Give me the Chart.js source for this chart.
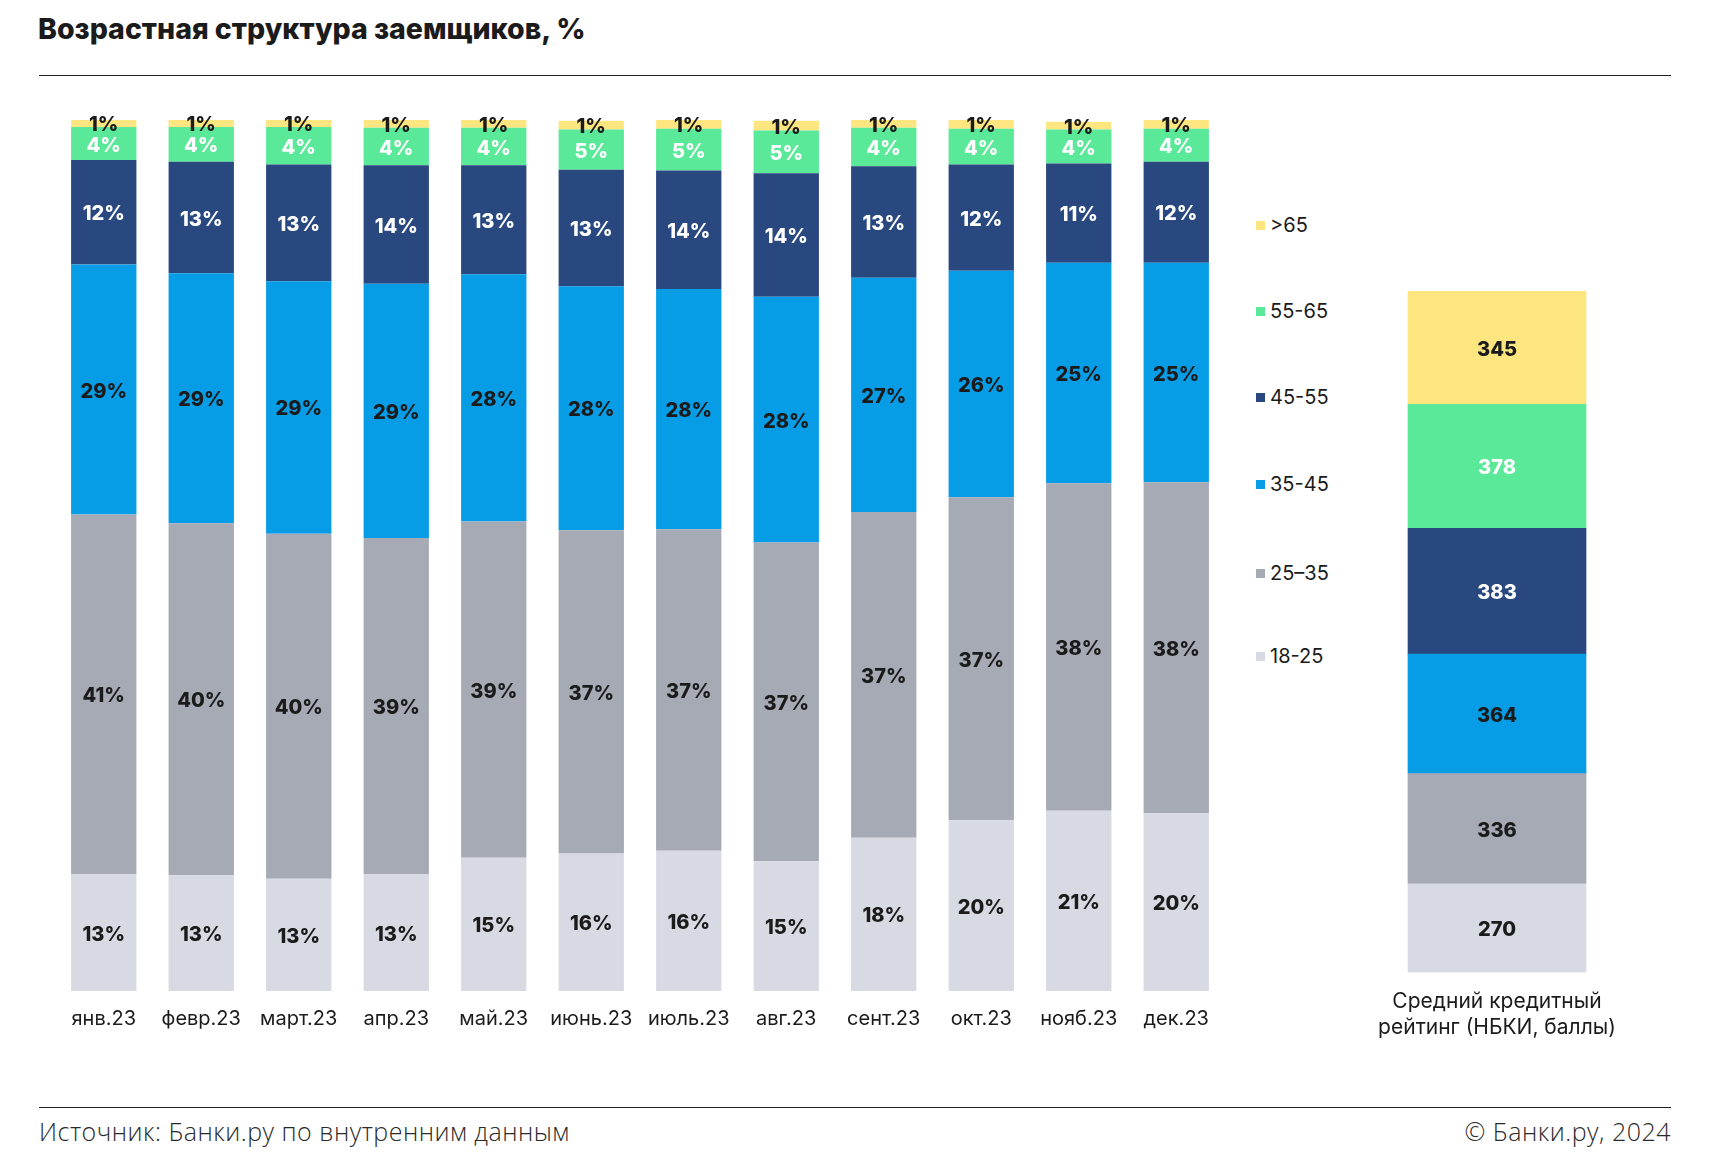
<!DOCTYPE html>
<html lang="ru">
<head>
<meta charset="utf-8">
<script src="https://cdn.jsdelivr.net/npm/chart.js@4/dist/chart.umd.min.js"></script>
<style>
  body { margin: 0; background: #fff; width: 1712px; height: 1170px; position: relative; overflow: hidden; font-family: Inter, sans-serif; color: #1b1b1b; }
  .title { position: absolute; left: 38px; top: 11px; font-size: 28.5px; font-weight: 800; letter-spacing: 0; }
  .rule { position: absolute; left: 39px; width: 1632px; height: 1px; background: #222; }
  canvas { position: absolute; }
  #legend { position: absolute; left: 1256px; top: 0; }
  .item { position: absolute; left: 0; white-space: nowrap; font-size: 20px; line-height: 20px; }
  .item i { display: inline-block; width: 9px; height: 9px; margin-right: 5px; vertical-align: 2px; }
  .foot { position: absolute; top: 1114px; font-size: 25px; font-weight: 300; letter-spacing: 0.5px; color: #2a2a2a; font-family: "Open Sans", sans-serif; }
</style>
</head>
<body>
<div class="title">Возрастная структура заемщиков, %</div>
<div class="rule" style="top:75px"></div>
<canvas id="main" width="1170" height="937" style="left:55px;top:110px"></canvas>
<div id="legend"></div>
<canvas id="rating" width="274" height="766" style="left:1360px;top:291px"></canvas>
<div class="rule" style="top:1107px"></div>
<div class="foot" style="left:39px">Источник: Банки.ру по внутренним данным</div>
<div class="foot" style="right:41px">© Банки.ру, 2024</div>
<script>
// Месяцы (ось X)
const months = ["янв.23", "февр.23", "март.23", "апр.23", "май.23", "июнь.23", "июль.23", "авг.23", "сент.23", "окт.23", "нояб.23", "дек.23"]

// Доли возрастных групп, % (снизу вверх)
const age18_25 = [13.4, 13.3, 12.9, 13.4, 15.3, 15.8, 16.1, 14.9, 17.6, 19.6, 20.7, 20.4]
const age25_35 = [41.3, 40.4, 39.6, 38.6, 38.6, 37.1, 36.9, 36.6, 37.4, 37.1, 37.6, 38.0]
const age35_45 = [28.7, 28.7, 29.0, 29.2, 28.4, 28.0, 27.6, 28.2, 26.9, 26.0, 25.3, 25.2]
const age45_55 = [12.0, 12.8, 13.4, 13.6, 12.5, 13.4, 13.6, 14.2, 12.8, 12.2, 11.4, 11.6]
const age55_65 = [3.8, 4.0, 4.3, 4.3, 4.3, 4.6, 4.8, 4.9, 4.4, 4.1, 3.9, 3.8]
const age65plus = [0.8, 0.8, 0.8, 0.9, 0.9, 1.0, 1.1, 1.1, 0.9, 1.0, 0.9, 1.0]

// Средний кредитный рейтинг по группам (те же группы, снизу вверх)
const ratingValues = [270, 336, 364, 383, 378, 345]
const ratingCaption = ["Средний кредитный", "рейтинг (НБКИ, баллы)"]

const groups = ["18-25", "25–35", "35-45", "45-55", "55-65", ">65"]
const colors = ["#d7dae2", "#a6aab5", "#069de6", "#29487f", "#5ae899", "#fde680"]
const labelColors = ["#1b1b1b", "#1b1b1b", "#1b1b1b", "#ffffff", "#ffffff", "#1b1b1b"]
const series = [age18_25, age25_35, age35_45, age45_55, age55_65, age65plus]

// подписи внутри сегментов
function segmentLabels(fmt) {
  return {
    id: 'segmentLabels',
    afterDatasetsDraw(chart) {
      const ctx = chart.ctx
      ctx.save()
      ctx.font = "800 20px Inter"
      ctx.textAlign = "center"
      ctx.textBaseline = "middle"
      chart.data.datasets.forEach((ds, i) => {
        chart.getDatasetMeta(i).data.forEach((bar, j) => {
          ctx.fillStyle = labelColors[i]
          ctx.fillText(fmt(ds.data[j]), bar.x, (bar.y + bar.base) / 2 + 2)
        })
      })
      ctx.restore()
    }
  }
}

new Chart(document.getElementById("main"), {
  type: 'bar',
  data: {
    labels: months,
    datasets: series.map((d, i) => ({
      label: groups[i],
      data: d,
      backgroundColor: colors[i],
      borderWidth: 0,
      barPercentage: 1,
      categoryPercentage: 0.67
    }))
  },
  options: {
    responsive: false,
    animation: false,
    layout: { padding: { top: 10 } },
    plugins: { legend: { display: false }, tooltip: { enabled: false } },
    scales: {
      x: {
        stacked: true,
        grid: { display: false, drawTicks: false },
        border: { display: false },
        ticks: { color: "#1b1b1b", font: { family: "Inter", size: 20 }, padding: 16, maxRotation: 0, autoSkip: false }
      },
      y: { stacked: true, display: false, min: 0, max: 100 }
    }
  },
  plugins: [segmentLabels(v => Math.round(v) + "%")]
})

new Chart(document.getElementById("rating"), {
  type: 'bar',
  data: {
    labels: [ratingCaption],
    datasets: ratingValues.map((v, i) => ({
      label: groups[i],
      data: [v],
      backgroundColor: colors[i],
      borderWidth: 0,
      barThickness: 178
    }))
  },
  options: {
    responsive: false,
    animation: false,
    plugins: { legend: { display: false }, tooltip: { enabled: false } },
    scales: {
      x: {
        stacked: true,
        grid: { display: false, drawTicks: false },
        border: { display: false },
        ticks: { color: "#1b1b1b", font: { family: "Inter", size: 21, lineHeight: 1.25 }, padding: 16, maxRotation: 0 }
      },
      y: { stacked: true, display: false, min: 0, max: ratingValues.reduce((a, b) => a + b, 0) }
    }
  },
  plugins: [segmentLabels(v => String(v))]
})

// легенда
const legendTops = [646, 563, 474, 387, 301, 215]
const $legend = document.getElementById("legend")
groups.forEach((g, i) => {
  const el = document.createElement("div")
  el.className = "item"
  el.style.top = legendTops[i] + "px"
  el.innerHTML = '<i style="background:' + colors[i] + '"></i>' + g
  $legend.appendChild(el)
})
</script>
</body>
</html>
